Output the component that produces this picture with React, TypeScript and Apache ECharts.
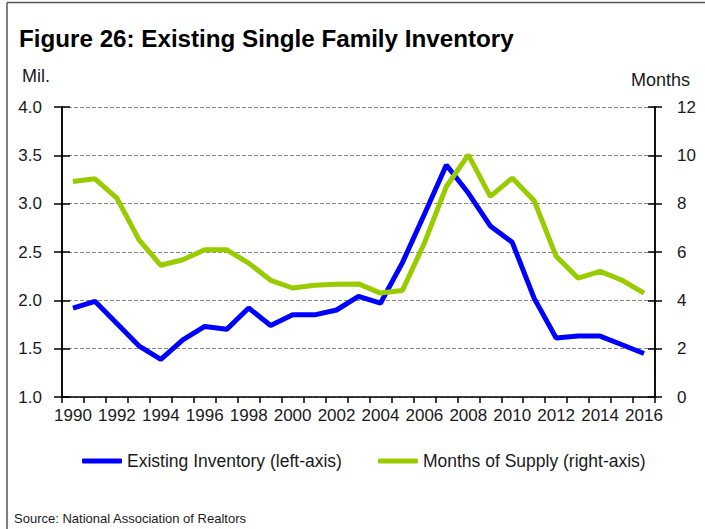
import React, { useEffect, useRef } from "react";
import * as echarts from "echarts";

const years: string[] = [
  "1990", "1991", "1992", "1993", "1994", "1995", "1996", "1997", "1998", "1999",
  "2000", "2001", "2002", "2003", "2004", "2005", "2006", "2007", "2008", "2009",
  "2010", "2011", "2012", "2013", "2014", "2015", "2016",
];

const existingInventory: number[] = [
  1.92, 1.99, 1.76, 1.53, 1.39, 1.59, 1.73, 1.70, 1.92, 1.74,
  1.85, 1.85, 1.90, 2.04, 1.97, 2.39, 2.89, 3.40, 3.11, 2.77,
  2.60, 2.02, 1.61, 1.63, 1.63, 1.54, 1.45,
];

const monthsOfSupply: number[] = [
  8.92, 9.03, 8.23, 6.51, 5.45, 5.68, 6.09, 6.09, 5.54, 4.83,
  4.51, 4.62, 4.67, 4.68, 4.30, 4.41, 6.37, 8.71, 10.02, 8.30,
  9.06, 8.12, 5.82, 4.92, 5.20, 4.83, 4.30,
];

const leftTicks = { min: 1, max: 4, interval: 0.5 };
const rightTicks = { min: 0, max: 12, interval: 2 };

const FONT = '"Liberation Sans", Arial, sans-serif';
const TXT = "#1a1a1a";

export default function App() {
  const ref = useRef<HTMLDivElement>(null);

  useEffect(() => {
    document.body.style.margin = "0";
    if (!ref.current) return;
    const chart = echarts.init(ref.current, null, { renderer: "svg" });
    const axisLine = { show: true, lineStyle: { color: "#000", width: 1.5 } };
    const tickStyle = { color: "#000", width: 1.5 };
    chart.setOption({
      animation: false,
      backgroundColor: "#fff",
      textStyle: { fontFamily: FONT },
      title: {
        text: "Figure 26: Existing Single Family Inventory",
        left: 19,
        top: 26,
        padding: 0,
        textStyle: { fontFamily: FONT, fontSize: 24.2, fontWeight: "bold", color: "#000" },
      },
      grid: { left: 62, right: 50, top: 107, bottom: 132, containLabel: false },
      legend: {
        left: 77,
        top: 447,
        padding: 5,
        itemWidth: 40,
        itemHeight: 5,
        itemGap: 36,
        icon: "roundRect",
        textStyle: { fontFamily: FONT, fontSize: 17.5, color: TXT },
        data: ["Existing Inventory (left-axis)", "Months of Supply (right-axis)"],
      },
      xAxis: {
        type: "category",
        data: years,
        boundaryGap: true,
        axisLine,
        axisTick: { show: true, interval: 0, length: 6, lineStyle: tickStyle },
        axisLabel: { interval: 1, fontFamily: FONT, fontSize: 17, color: TXT, margin: 10 },
        splitLine: { show: false },
      },
      yAxis: [
        {
          type: "value",
          position: "left",
          min: leftTicks.min,
          max: leftTicks.max,
          interval: leftTicks.interval,
          axisLine,
          axisTick: { show: true, length: 8, lineStyle: tickStyle },
          axisLabel: {
            fontFamily: FONT,
            fontSize: 17,
            color: TXT,
            margin: 20,
            formatter: (v: number) => v.toFixed(1),
          },
          splitLine: { show: true, lineStyle: { color: "#888", type: [4, 2], width: 1 } },
        },
        {
          type: "value",
          position: "right",
          min: rightTicks.min,
          max: rightTicks.max,
          interval: rightTicks.interval,
          axisLine,
          axisTick: { show: true, length: 7, lineStyle: tickStyle },
          axisLabel: { fontFamily: FONT, fontSize: 17, color: TXT, margin: 22 },
          splitLine: { show: false },
        },
        {
          type: "value",
          position: "left",
          min: leftTicks.min,
          max: leftTicks.max,
          interval: leftTicks.interval,
          axisLine,
          axisTick: { show: true, inside: true, length: 8, lineStyle: tickStyle },
          axisLabel: { show: false },
          splitLine: { show: false },
        },
        {
          type: "value",
          position: "right",
          min: rightTicks.min,
          max: rightTicks.max,
          interval: rightTicks.interval,
          axisLine,
          axisTick: { show: true, inside: true, length: 7, lineStyle: tickStyle },
          axisLabel: { show: false },
          splitLine: { show: false },
        },
      ],
      series: [
        {
          name: "Existing Inventory (left-axis)",
          type: "line",
          yAxisIndex: 0,
          data: existingInventory,
          symbol: "none",
          color: "#0000FF",
          lineStyle: { color: "#0000FF", width: 5 },
        },
        {
          name: "Months of Supply (right-axis)",
          type: "line",
          yAxisIndex: 1,
          data: monthsOfSupply,
          symbol: "none",
          color: "#99CC00",
          lineStyle: { color: "#99CC00", width: 5 },
        },
      ],
      graphic: [
        { type: "line", shape: { x1: 7, y1: 2.5, x2: 705, y2: 2.5 }, style: { stroke: "#555", lineWidth: 1.5 } },
        { type: "line", shape: { x1: 7, y1: 2.5, x2: 7, y2: 529 }, style: { stroke: "#555", lineWidth: 1.5 } },
        {
          type: "text",
          left: 22,
          top: 67,
          style: { text: "Mil.", fontFamily: FONT, fontSize: 18, fill: TXT },
        },
        {
          type: "text",
          right: 15,
          top: 71,
          style: { text: "Months", fontFamily: FONT, fontSize: 18, fill: TXT },
        },
        {
          type: "text",
          left: 14,
          top: 512,
          style: { text: "Source: National Association of Realtors", fontFamily: FONT, fontSize: 13, fill: TXT },
        },
      ],
    });
    return () => chart.dispose();
  }, []);

  return <div ref={ref} style={{ width: 705, height: 529 }} />;
}
